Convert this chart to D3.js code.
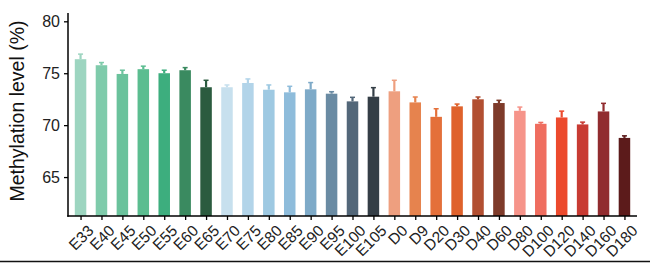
<!DOCTYPE html>
<html><head><meta charset="utf-8">
<script src="https://cdn.jsdelivr.net/npm/d3@7"></script>
<style>body{margin:0;background:#fff}svg{display:block}text{font-family:"Liberation Sans",Arial,sans-serif}</style>
</head><body><div id="chart"></div>
<script>
const categories = ["E33","E40","E45","E50","E55","E60","E65","E70","E75","E80","E85","E90","E95","E100","E105","D0","D9","D20","D30","D40","D60","D80","D100","D120","D140","D160","D180"];
const means = [76.35,75.77,74.93,75.39,75.0,75.29,73.65,73.65,74.06,73.41,73.16,73.45,73.03,72.29,72.74,73.26,72.19,70.8,71.81,72.49,72.13,71.38,70.13,70.74,70.07,71.32,68.77];
const upper = [76.84,76.03,75.29,75.68,75.29,75.54,74.32,73.87,74.45,73.87,73.74,74.1,73.22,72.68,73.61,74.32,72.71,71.58,72.03,72.71,72.39,71.74,70.26,71.35,70.29,72.1,68.97];
const colors = ["#9dd5c0","#7fcbab","#6ac29c","#5bbd90","#3dae7e","#3a8a60","#2b5b3f","#c7e0ee","#b2d4e9","#9ec9e2","#8ebcdb","#7eaac8","#6a8ba3","#536779","#343e46","#ee9f7f","#e6834e","#e4703a","#df622c","#b24f31","#7e3b2a","#f6948a","#ef6d5f","#ec4a2d","#c83b33","#912c2f","#5c1b1b"];
const yTicks = [65,70,75,80];

const W=650,H=264;
const svg=d3.select("#chart").append("svg").attr("width",W).attr("height",H);
const x=d3.scalePoint().domain(categories).range([68,637]).padding(0.6);
const y=d3.scaleLinear().domain([61.25,80.8]).range([216,13]);
const bw=x.step()*0.55;

svg.append("g").selectAll("rect").data(categories).join("rect")
  .attr("x",d=>x(d)-bw/2).attr("width",bw)
  .attr("y",(d,i)=>y(means[i])).attr("height",(d,i)=>y(61.25)-y(means[i]))
  .attr("fill",(d,i)=>colors[i]);

const eb=svg.append("g");
eb.selectAll("line.v").data(categories).join("line").attr("class","v")
  .attr("x1",d=>x(d)).attr("x2",d=>x(d))
  .attr("y1",(d,i)=>y(means[i])).attr("y2",(d,i)=>y(upper[i]))
  .attr("stroke",(d,i)=>colors[i]).attr("stroke-width",2.2);
eb.selectAll("line.c").data(categories).join("line").attr("class","c")
  .attr("x1",d=>x(d)-2.5).attr("x2",d=>x(d)+2.5)
  .attr("y1",(d,i)=>y(upper[i])).attr("y2",(d,i)=>y(upper[i]))
  .attr("stroke",(d,i)=>colors[i]).attr("stroke-width",1.5);

// y axis
const ya=svg.append("g").attr("transform","translate(68,0)")
  .call(d3.axisLeft(y).tickValues(yTicks).tickSize(4).tickPadding(4));
ya.select(".domain").attr("d","M0,13V216.75").attr("stroke","#000").attr("stroke-width",1.5);
ya.selectAll(".tick line").attr("stroke","#000").attr("stroke-width",1.3);
ya.selectAll(".tick text").attr("font-size",16).attr("fill","#222").attr("font-family","Liberation Sans, Arial, sans-serif");

// x axis
const xa=svg.append("g").attr("transform","translate(0,216)")
  .call(d3.axisBottom(x).tickSize(4));
xa.select(".domain").attr("d","M67.25,0H637").attr("stroke","#000").attr("stroke-width",1.5);
xa.selectAll(".tick line").attr("stroke","#000").attr("stroke-width",1.3);
xa.selectAll(".tick text").attr("font-size",15.5).attr("fill","#222")
  .attr("font-family","Liberation Sans, Arial, sans-serif")
  .attr("text-anchor","end").attr("transform","translate(6,8) rotate(-45)").attr("dy","0.7em").attr("y",0).attr("x",0);

svg.append("text").attr("transform","translate(24,111) rotate(-90)").attr("text-anchor","middle")
  .attr("font-size",19.5).attr("fill","#111").text("Methylation level (%)");

svg.append("line").attr("x1",0).attr("x2",W).attr("y1",261.5).attr("y2",261.5).attr("stroke","#111").attr("stroke-width",1.5);
</script></body></html>
